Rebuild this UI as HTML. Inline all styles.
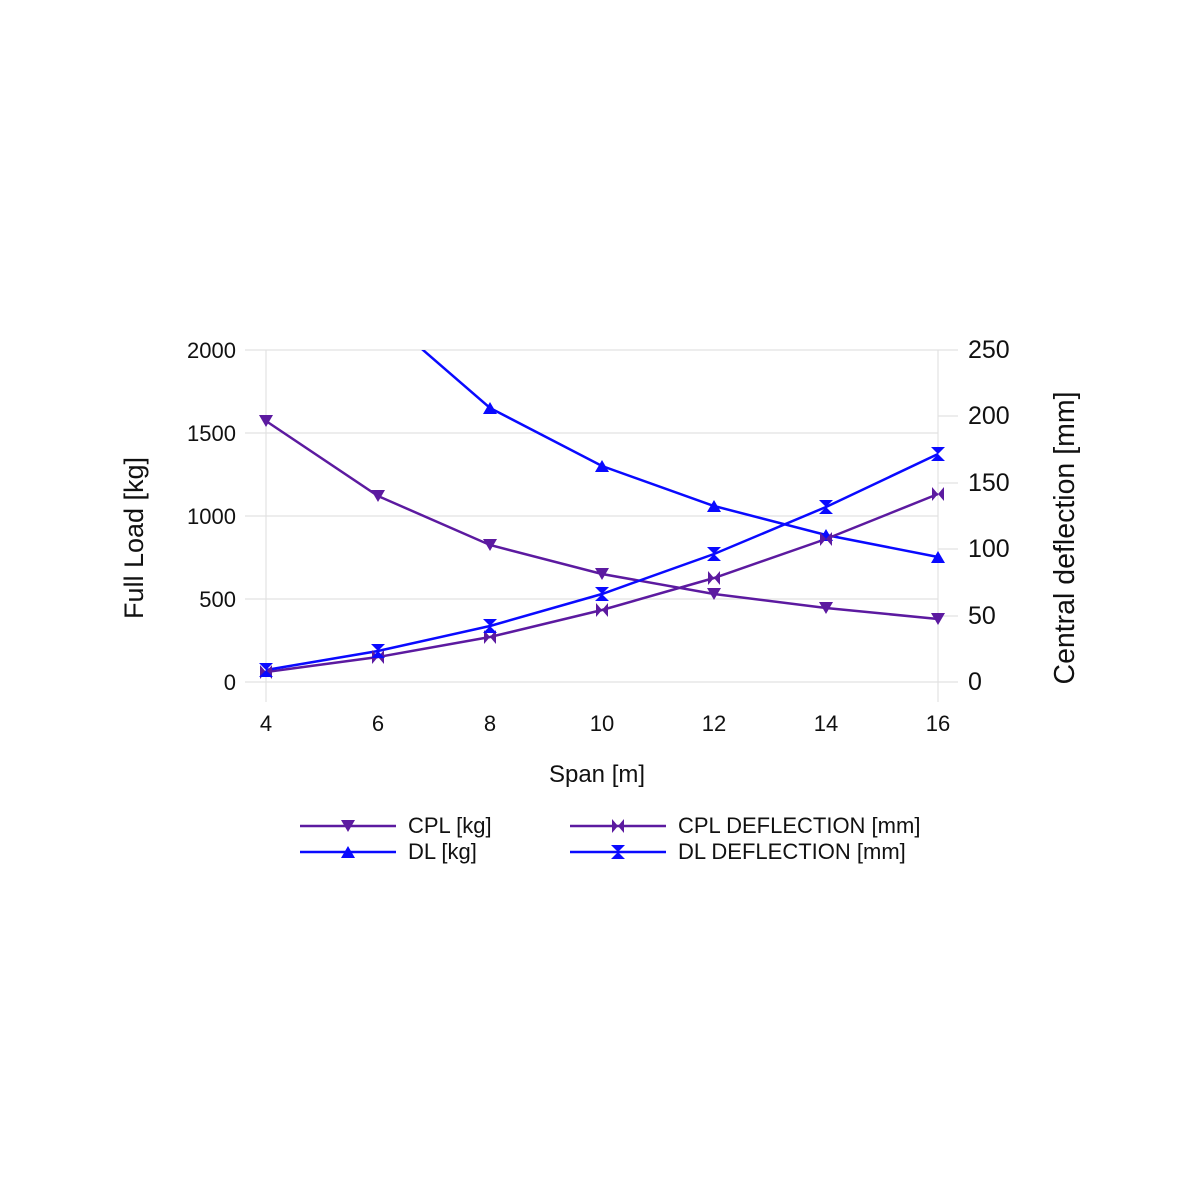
<!DOCTYPE html>
<html><head><meta charset="utf-8"><style>body{margin:0;background:#fff}svg{display:block}text{font-family:"Liberation Sans",sans-serif;fill:#111}</style></head><body>
<svg width="1200" height="1200" viewBox="0 0 1200 1200">
<defs>
<clipPath id="c"><rect x="240" y="350" width="720" height="340"/></clipPath>
<g id="dn"><path d="M-7,-6 L7,-6 L0,6 Z"/></g>
<g id="up"><path d="M-7,6 L7,6 L0,-6 Z"/></g>
<g id="bt"><path d="M-6,-7 L0,0 L-6,7 Z M6,-7 L0,0 L6,7 Z"/></g>
<g id="hg"><path d="M-7,-7 L7,-7 L0,0 Z M-7,7 L7,7 L0,0 Z"/></g>
</defs>
<g stroke="#e2e2e2" stroke-width="1.2">
<line x1="245" y1="350" x2="938" y2="350"/><line x1="245" y1="433" x2="938" y2="433"/><line x1="245" y1="516" x2="938" y2="516"/><line x1="245" y1="599" x2="938" y2="599"/><line x1="245" y1="682" x2="938" y2="682"/>
<line x1="938" y1="416" x2="958" y2="416"/><line x1="938" y1="483" x2="958" y2="483"/><line x1="938" y1="549" x2="958" y2="549"/><line x1="938" y1="616" x2="958" y2="616"/><line x1="938" y1="682" x2="958" y2="682"/><line x1="938" y1="350" x2="958" y2="350"/>
<line x1="266" y1="350" x2="266" y2="702"/><line x1="938" y1="350" x2="938" y2="702"/>
</g>
<g font-size="22" text-anchor="end"><text x="236" y="358">2000</text><text x="236" y="441">1500</text><text x="236" y="524">1000</text><text x="236" y="607">500</text><text x="236" y="690">0</text></g>
<g font-size="25" text-anchor="start"><text x="968" y="358">250</text><text x="968" y="424">200</text><text x="968" y="491">150</text><text x="968" y="557">100</text><text x="968" y="624">50</text><text x="968" y="690">0</text></g>
<g font-size="22" text-anchor="middle"><text x="266" y="731">4</text><text x="378" y="731">6</text><text x="490" y="731">8</text><text x="602" y="731">10</text><text x="714" y="731">12</text><text x="826" y="731">14</text><text x="938" y="731">16</text></g>
<text x="597" y="782" font-size="24" text-anchor="middle">Span [m]</text>
<text transform="translate(143,538) rotate(-90)" font-size="27" text-anchor="middle">Full Load [kg]</text>
<text transform="translate(1074,538) rotate(-90)" font-size="28.5" text-anchor="middle">Central deflection [mm]</text>
<g clip-path="url(#c)" fill="none" stroke-width="2.5">
<polyline stroke="#0a0aff" points="378,311 490,408 602,466 714,506 826,535 938,557"/>
<polyline stroke="#5c1aa0" points="266,421 378,496 490,545 602,574 714,594 826,608 938,619"/>
<polyline stroke="#5c1aa0" points="266,672 378,657 490,637 602,610 714,578 826,539 938,494"/>
<polyline stroke="#0a0aff" points="266,670 378,651 490,626 602,594 714,554 826,507 938,454"/>
</g>
<g fill="#0a0aff"><use href="#up" x="490" y="408"/><use href="#up" x="602" y="466"/><use href="#up" x="714" y="506"/><use href="#up" x="826" y="535"/><use href="#up" x="938" y="557"/></g>
<g fill="#5c1aa0"><use href="#dn" x="266" y="421"/><use href="#dn" x="378" y="496"/><use href="#dn" x="490" y="545"/><use href="#dn" x="602" y="574"/><use href="#dn" x="714" y="594"/><use href="#dn" x="826" y="608"/><use href="#dn" x="938" y="619"/></g>
<g fill="#5c1aa0"><use href="#bt" x="266" y="672"/><use href="#bt" x="378" y="657"/><use href="#bt" x="490" y="637"/><use href="#bt" x="602" y="610"/><use href="#bt" x="714" y="578"/><use href="#bt" x="826" y="539"/><use href="#bt" x="938" y="494"/></g>
<g fill="#0a0aff"><use href="#hg" x="266" y="670"/><use href="#hg" x="378" y="651"/><use href="#hg" x="490" y="626"/><use href="#hg" x="602" y="594"/><use href="#hg" x="714" y="554"/><use href="#hg" x="826" y="507"/><use href="#hg" x="938" y="454"/></g>
<g stroke-width="2.5">
<line x1="300" y1="826" x2="396" y2="826" stroke="#5c1aa0"/><line x1="300" y1="852" x2="396" y2="852" stroke="#0a0aff"/>
<line x1="570" y1="826" x2="666" y2="826" stroke="#5c1aa0"/><line x1="570" y1="852" x2="666" y2="852" stroke="#0a0aff"/>
</g>
<use href="#dn" x="348" y="826" fill="#5c1aa0"/><use href="#up" x="348" y="852" fill="#0a0aff"/>
<use href="#bt" x="618" y="826" fill="#5c1aa0"/><use href="#hg" x="618" y="852" fill="#0a0aff"/>
<g font-size="22"><text x="408" y="833">CPL [kg]</text><text x="408" y="859">DL [kg]</text><text x="678" y="833">CPL DEFLECTION [mm]</text><text x="678" y="859">DL DEFLECTION [mm]</text></g>
</svg>
</body></html>
